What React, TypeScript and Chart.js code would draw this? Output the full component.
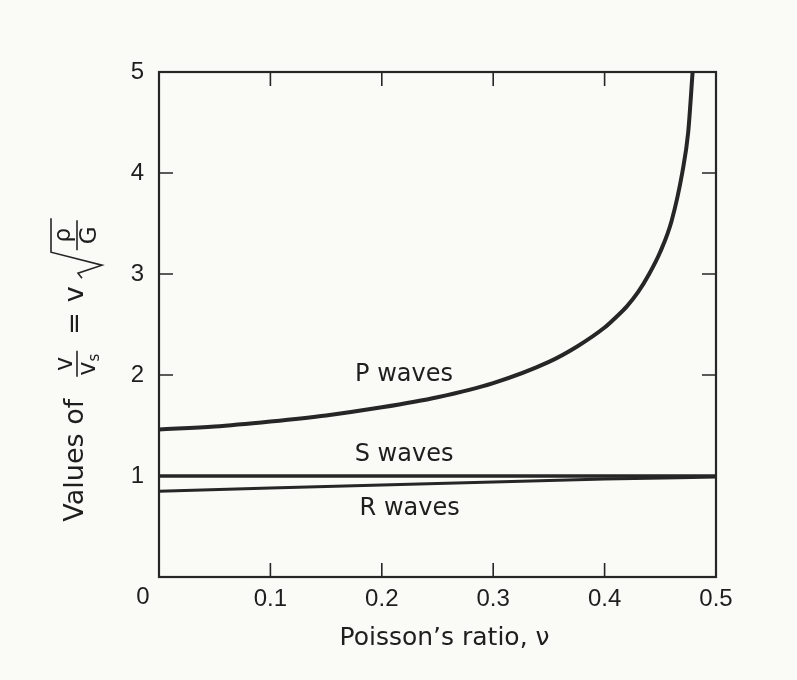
import React, { useEffect, useRef } from "react";
import { Chart, registerables } from "chart.js";

Chart.register(...registerables);

// ---- data ----
const poissonP = [0, 0.05, 0.1, 0.15, 0.2, 0.25, 0.3, 0.35, 0.375, 0.4, 0.41, 0.42, 0.43, 0.44, 0.45, 0.46, 0.47, 0.475, 0.479];
const pWaves = [1.46, 1.49, 1.54, 1.6, 1.68, 1.78, 1.92, 2.13, 2.28, 2.47, 2.57, 2.68, 2.82, 3.0, 3.22, 3.52, 4.02, 4.4, 5.0];
const poissonS = [0, 0.5];
const sWaves = [1.0, 1.0];
const poissonR = [0, 0.1, 0.2, 0.3, 0.4, 0.5];
const rWaves = [0.85, 0.88, 0.91, 0.94, 0.97, 0.99];
const xTickValues = [0, 0.1, 0.2, 0.3, 0.4, 0.5];
const yTickValues = [0, 1, 2, 3, 4, 5];
const curveNames = ["P waves", "S waves", "R waves"];
const curveLabelX = [0.22, 0.22, 0.225];
const curveLabelY = [2.0, 1.21, 0.68];
const xTitle = "Poisson\u2019s ratio, \u03bd";

const INK = "#1e1e1e";
const LINE = "#262626";
const BG = "#fafaf6";
const WORD_FONT = '"DejaVu Sans", "Liberation Sans", sans-serif';

const toPoints = (xs: number[], ys: number[]) => xs.map((x, i) => ({ x, y: ys[i] }));

const decorPlugin = {
  id: "decor",
  beforeDraw(chart: any) {
    const { ctx, width, height } = chart;
    ctx.save();
    ctx.fillStyle = BG;
    ctx.fillRect(0, 0, width, height);
    ctx.restore();
  },
  afterDraw(chart: any) {
    const { ctx, chartArea } = chart;
    const xs = chart.scales.x;
    const ys = chart.scales.y;
    const { left, right, top, bottom } = chartArea;
    ctx.save();
    // frame
    ctx.strokeStyle = LINE;
    ctx.lineWidth = 2.2;
    ctx.strokeRect(left, top, right - left, bottom - top);
    // inner ticks
    const tl = 14;
    ctx.lineWidth = 1.6;
    ctx.beginPath();
    xTickValues.slice(1, -1).forEach((v) => {
      const px = xs.getPixelForValue(v);
      ctx.moveTo(px, bottom);
      ctx.lineTo(px, bottom - tl);
      ctx.moveTo(px, top);
      ctx.lineTo(px, top + tl);
    });
    yTickValues.slice(1, -1).forEach((v) => {
      const py = ys.getPixelForValue(v);
      ctx.moveTo(left, py);
      ctx.lineTo(left + tl, py);
      ctx.moveTo(right, py);
      ctx.lineTo(right - tl, py);
    });
    ctx.stroke();

    // origin label "0"
    ctx.fillStyle = INK;
    ctx.font = '24px "Liberation Sans", Arial, sans-serif';
    ctx.textAlign = "center";
    ctx.textBaseline = "middle";
    ctx.fillText("0", left - 16, bottom + 20);

    // curve labels
    ctx.font = "24px " + WORD_FONT;
    curveNames.forEach((name, i) => {
      ctx.fillText(name, xs.getPixelForValue(curveLabelX[i]), ys.getPixelForValue(curveLabelY[i]));
    });

    // x title
    ctx.font = "25px " + WORD_FONT;
    ctx.textBaseline = "alphabetic";
    ctx.fillText(xTitle, (left + right) / 2 + 7, bottom + 68);

    // y title (rotated, with fractions and root)
    ctx.translate(75, 370);
    ctx.rotate(-Math.PI / 2);
    ctx.textAlign = "left";
    ctx.textBaseline = "alphabetic";
    ctx.lineWidth = 1.6;
    const F = "27px " + WORD_FONT;
    const FF = "24px " + WORD_FONT;
    const FS = "15px " + WORD_FONT;
    const FR = "23px " + WORD_FONT;
    ctx.font = F;
    const t1 = "Values of";
    const w1 = ctx.measureText(t1).width;
    const wEq = ctx.measureText("=").width;
    const wV = ctx.measureText("v").width;
    ctx.font = FF;
    const wVf = ctx.measureText("v").width;
    ctx.font = FS;
    const wS = ctx.measureText("s").width;
    ctx.font = FR;
    const wRho = ctx.measureText("\u03c1").width;
    const wG = ctx.measureText("G").width;
    const fw = wVf + wS + 4;
    const inner = Math.max(wRho, wG) + 10;
    const gaps = [22, 16, 10, 8];
    const rad = 26;
    const total = w1 + gaps[0] + fw + gaps[1] + wEq + gaps[2] + wV + gaps[3] + rad + inner + 6;
    let cur = -total / 2;
    ctx.font = F;
    ctx.fillText(t1, cur, 8);
    cur += w1 + gaps[0];
    // fraction v / v_s
    ctx.beginPath();
    ctx.moveTo(cur, 2);
    ctx.lineTo(cur + fw, 2);
    ctx.stroke();
    ctx.font = FF;
    ctx.textAlign = "center";
    ctx.fillText("v", cur + fw / 2, -3);
    ctx.textAlign = "left";
    ctx.fillText("v", cur + 1, 20);
    ctx.font = FS;
    ctx.fillText("s", cur + 1 + wVf, 24);
    cur += fw + gaps[1];
    ctx.font = F;
    ctx.fillText("=", cur, 8);
    cur += wEq + gaps[2];
    ctx.fillText("v", cur, 8);
    cur += wV + gaps[3];
    // radical
    const barEnd = cur + rad + inner + 6;
    ctx.beginPath();
    ctx.moveTo(cur, 7);
    ctx.lineTo(cur + 5, 3);
    ctx.lineTo(cur + 13, 27);
    ctx.lineTo(cur + rad, -24);
    ctx.lineTo(barEnd, -24);
    ctx.stroke();
    const fx0 = cur + rad + 2;
    const fx1 = barEnd - 2;
    ctx.beginPath();
    ctx.moveTo(fx0, 2);
    ctx.lineTo(fx1, 2);
    ctx.stroke();
    ctx.font = FR;
    ctx.textAlign = "center";
    ctx.fillText("\u03c1", (fx0 + fx1) / 2, -5);
    ctx.fillText("G", (fx0 + fx1) / 2, 21);
    ctx.restore();
  },
};

export default function App() {
  const ref = useRef<HTMLCanvasElement | null>(null);
  useEffect(() => {
    if (!ref.current) return;
    const tickFont = { family: '"Liberation Sans", Arial, sans-serif', size: 24 };
    const chart = new Chart(ref.current, {
      type: "line",
      data: {
        datasets: [
          {
            label: curveNames[0],
            data: toPoints(poissonP, pWaves),
            borderColor: LINE,
            borderWidth: 4,
            cubicInterpolationMode: "monotone",
            pointRadius: 0,
            fill: false,
          },
          {
            label: curveNames[1],
            data: toPoints(poissonS, sWaves),
            borderColor: LINE,
            borderWidth: 3.5,
            pointRadius: 0,
            fill: false,
          },
          {
            label: curveNames[2],
            data: toPoints(poissonR, rWaves),
            borderColor: LINE,
            borderWidth: 3,
            cubicInterpolationMode: "monotone",
            pointRadius: 0,
            fill: false,
          },
        ],
      },
      options: {
        animation: false,
        responsive: false,
        maintainAspectRatio: false,
        layout: { padding: { top: 72, right: 81, left: 0, bottom: 0 } },
        plugins: { legend: { display: false }, tooltip: { enabled: false } },
        scales: {
          x: {
            type: "linear",
            min: 0,
            max: 0.5,
            grid: { display: false },
            border: { display: false },
            afterBuildTicks: (s: any) => {
              s.ticks = xTickValues.slice(1).map((v) => ({ value: v }));
            },
            afterFit: (s: any) => {
              s.height = 103;
            },
            ticks: {
              autoSkip: false,
              maxRotation: 0,
              padding: 0,
              color: INK,
              font: tickFont,
              callback: (v: any) => Number(v).toFixed(1),
            },
          },
          y: {
            type: "linear",
            min: 0,
            max: 5,
            grid: { display: false },
            border: { display: false },
            afterBuildTicks: (s: any) => {
              s.ticks = yTickValues.slice(1).map((v) => ({ value: v }));
            },
            afterFit: (s: any) => {
              s.width = 159;
            },
            ticks: {
              autoSkip: false,
              padding: 7,
              color: INK,
              font: tickFont,
              callback: (v: any) => String(v),
            },
          },
        },
      },
      plugins: [decorPlugin],
    } as any);
    return () => chart.destroy();
  }, []);
  return (
    <div style={{ position: "fixed", left: 0, top: 0, width: 797, height: 680, background: BG }}>
      <canvas ref={ref} width={797} height={680} style={{ display: "block", width: 797, height: 680 }} />
    </div>
  );
}
